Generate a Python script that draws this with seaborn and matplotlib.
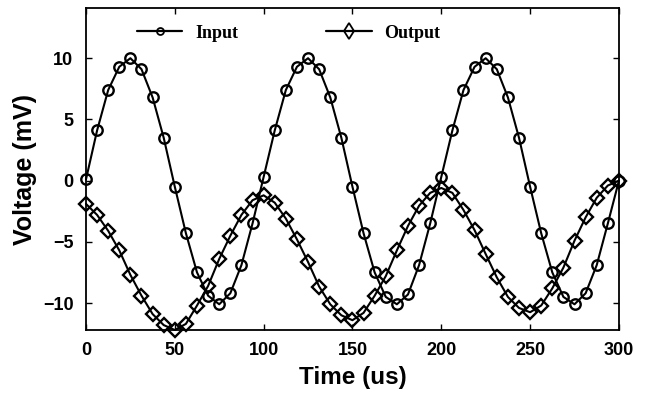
import matplotlib
matplotlib.use("Agg")
import matplotlib.pyplot as plt
from matplotlib.lines import Line2D
import seaborn as sns
import pandas as pd

# time axis (us), one sample every 6.25 us
time_us = [0, 6.25, 12.5, 18.75, 25, 31.25, 37.5, 43.75, 50, 56.25, 62.5, 68.75, 75, 81.25, 87.5, 93.75,
           100, 106.25, 112.5, 118.75, 125, 131.25, 137.5, 143.75, 150, 156.25, 162.5, 168.75, 175, 181.25, 187.5, 193.75,
           200, 206.25, 212.5, 218.75, 225, 231.25, 237.5, 243.75, 250, 256.25, 262.5, 268.75, 275, 281.25, 287.5, 293.75,
           300]

input_mv = [0.1, 4.1, 7.4, 9.3, 10.0, 9.1, 6.8, 3.5, -0.5, -4.3, -7.5, -9.4, -10.1, -9.2, -6.9, -3.5,
            0.3, 4.1, 7.4, 9.3, 10.0, 9.1, 6.8, 3.5, -0.5, -4.3, -7.5, -9.5, -10.1, -9.3, -6.9, -3.5,
            0.3, 4.1, 7.4, 9.3, 10.0, 9.1, 6.8, 3.5, -0.5, -4.3, -7.5, -9.5, -10.1, -9.2, -6.9, -3.5,
            0.0]

output_mv = [-1.9, -2.8, -4.1, -5.7, -7.7, -9.4, -10.9, -11.8, -12.2, -11.7, -10.2, -8.6, -6.4, -4.5, -2.8, -1.6,
             -1.2, -1.8, -3.1, -4.8, -6.65, -8.65, -10.1, -11.0, -11.4, -10.8, -9.4, -7.8, -5.7, -3.7, -2.05, -1.0,
             -0.6, -1.0, -2.4, -4.05, -6.0, -7.9, -9.5, -10.4, -10.75, -10.2, -8.8, -7.1, -4.9, -3.0, -1.4, -0.4,
             0.0]

df = pd.DataFrame({"time": time_us, "Input": input_mv, "Output": output_mv})

sns.set_style("ticks", {'axes.edgecolor': 'black', 'text.color': 'black',
                        'axes.labelcolor': 'black', 'xtick.color': 'black',
                        'ytick.color': 'black'})
plt.rcParams['font.family'] = ['Liberation Sans', 'DejaVu Sans']
plt.rcParams['font.weight'] = 'bold'

fig = plt.figure(figsize=(6.46, 3.97), dpi=100)
ax = fig.add_axes([0.1331, 0.1688, 0.825, 0.811])

# both series: black line, hollow markers, not clipped at the spines
style = dict(color='black', linewidth=1.5, markerfacecolor='none',
             markeredgecolor='black', markeredgewidth=1.7, clip_on=False)
sns.lineplot(data=df, x="time", y="Output", marker='D', markersize=7, ax=ax, **style)
sns.lineplot(data=df, x="time", y="Input", marker='o', markersize=7.5, ax=ax, **style)

ax.set_xlim(0, 300)
ax.set_ylim(-12.2, 14.1)
ax.set_xticks([0, 50, 100, 150, 200, 250, 300])
ax.set_yticks([-10, -5, 0, 5, 10])
ax.set_yticklabels(['\u221210', '\u22125', '0', '5', '10'])

ax.tick_params(direction='in', top=True, right=True, length=4, width=1,
               labelsize=13, pad=9, colors='black')
for lab in ax.get_xticklabels() + ax.get_yticklabels():
    lab.set_fontweight('bold')
for sp in ax.spines.values():
    sp.set_linewidth(1.3)
    sp.set_color('black')
    sp.set_visible(True)

ax.set_xlabel("Time (us)", fontsize=17.5, fontweight='bold', labelpad=5, color='black')
ax.set_ylabel("Voltage (mV)", fontsize=18, fontweight='bold', labelpad=4, color='black')

# legend with thin markers, serif bold like the original
handles = [Line2D([], [], color='black', linewidth=1.6, marker='o', markersize=5,
                  markerfacecolor='none', markeredgewidth=1.3),
           Line2D([], [], color='black', linewidth=1.6, marker='d', markersize=8,
                  markerfacecolor='none', markeredgewidth=1.3)]
leg = ax.legend(handles, ["Input", "Output"], loc='center left', bbox_to_anchor=(0.096, 0.922),
                ncol=2, frameon=False, borderpad=0, borderaxespad=0, handlelength=2.5,
                handletextpad=0.7, columnspacing=4.9,
                prop={'family': 'Liberation Serif', 'weight': 'bold', 'size': 13})
for t in leg.get_texts():
    t.set_color('black')

fig.savefig("out.png", dpi=100)
